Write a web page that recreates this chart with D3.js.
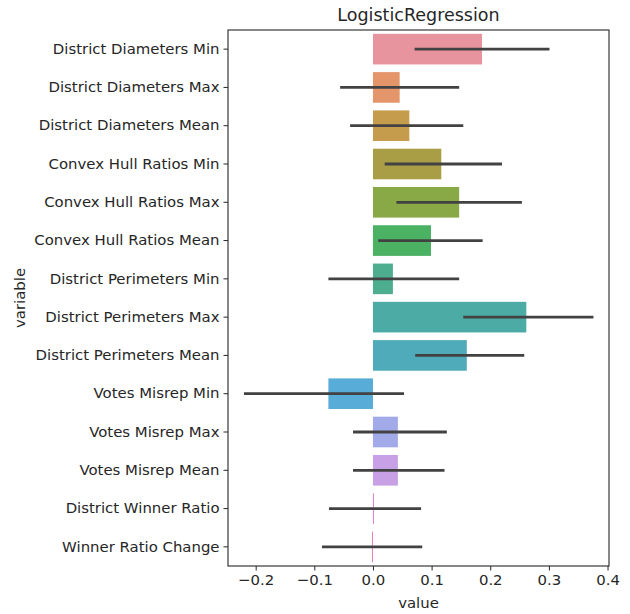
<!DOCTYPE html>
<html>
<head>
<meta charset="utf-8">
<script src="https://cdn.jsdelivr.net/npm/d3@7"></script>
<style>
  html, body { margin: 0; padding: 0; background: #fff; }
  svg { display: block; font-family: "DejaVu Sans", sans-serif; }
</style>
</head>
<body>
<svg id="chart" width="630" height="614"></svg>
<script>
// Feature coefficients with confidence intervals
const categories = [
  "District Diameters Min", "District Diameters Max", "District Diameters Mean",
  "Convex Hull Ratios Min", "Convex Hull Ratios Max", "Convex Hull Ratios Mean",
  "District Perimeters Min", "District Perimeters Max", "District Perimeters Mean",
  "Votes Misrep Min", "Votes Misrep Max", "Votes Misrep Mean",
  "District Winner Ratio", "Winner Ratio Change"
];
const values = [0.186, 0.0455, 0.062, 0.1165, 0.147, 0.099, 0.034, 0.2615, 0.16, -0.076, 0.0425, 0.0425, 0.0017, -0.0017];
const ciLow  = [0.071, -0.056, -0.039, 0.020, 0.040, 0.009, -0.076, 0.154, 0.072, -0.220, -0.034, -0.034, -0.075, -0.087];
const ciHigh = [0.301, 0.147, 0.154, 0.220, 0.254, 0.187, 0.147, 0.376, 0.258, 0.053, 0.126, 0.122, 0.082, 0.084];
const barColors = [
  "#e8949f", "#e4956a", "#c59b4c", "#a99e46", "#89a846", "#4bb163", "#4cae8e",
  "#4caba5", "#4fabba", "#57acd8", "#a2aaea", "#c8a0e6", "#e07fd0", "#e47fbd"
];
const xTicks = [-0.2, -0.1, 0.0, 0.1, 0.2, 0.3, 0.4];
const title = "LogisticRegression";
const xLabel = "value";
const yLabel = "variable";

const svg = d3.select("#chart");
const m = { left: 228, right: 609, top: 30, bottom: 566 };
const tickFont = 14.9;

const x = d3.scaleLinear().domain([-0.2472, 0.4025]).range([m.left, m.right]);
const y = d3.scaleBand().domain(categories).range([m.top, m.bottom]).paddingInner(0.2).paddingOuter(0.1);

// Bars
svg.append("g").selectAll("rect")
  .data(categories)
  .join("rect")
  .attr("x", (d, i) => Math.min(x(0), x(values[i])))
  .attr("width", (d, i) => Math.abs(x(values[i]) - x(0)))
  .attr("y", d => y(d))
  .attr("height", y.bandwidth())
  .attr("fill", (d, i) => barColors[i]);

// Error bars
svg.append("g").selectAll("line")
  .data(categories)
  .join("line")
  .attr("x1", (d, i) => x(ciLow[i]))
  .attr("x2", (d, i) => x(ciHigh[i]))
  .attr("y1", d => y(d) + y.bandwidth() / 2)
  .attr("y2", d => y(d) + y.bandwidth() / 2)
  .attr("stroke", "#424242")
  .attr("stroke-width", 2.8);

// Axes
const xAxis = d3.axisBottom(x).tickValues(xTicks).tickSizeOuter(0).tickSize(4.5).tickPadding(4)
  .tickFormat(d => d3.format(".1f")(d).replace("-", "\u2212"));
const gx = svg.append("g").attr("transform", `translate(0,${m.bottom})`).call(xAxis);
gx.select(".domain").remove();
gx.selectAll("text").attr("font-size", tickFont).attr("fill", "#262626").attr("font-family", "DejaVu Sans");
gx.selectAll("line").attr("stroke", "#262626").attr("stroke-width", 1);

const yAxis = d3.axisLeft(y).tickSizeOuter(0).tickSize(4.5).tickPadding(4);
const gy = svg.append("g").attr("transform", `translate(${m.left},0)`).call(yAxis);
gy.select(".domain").remove();
gy.selectAll("text").attr("font-size", tickFont).attr("fill", "#262626").attr("font-family", "DejaVu Sans");
gy.selectAll("line").attr("stroke", "#262626").attr("stroke-width", 1);

// Frame
svg.append("rect")
  .attr("x", m.left).attr("y", m.top)
  .attr("width", m.right - m.left).attr("height", m.bottom - m.top)
  .attr("fill", "none").attr("stroke", "#262626").attr("stroke-width", 1.1);

// Titles
svg.append("text").attr("x", (m.left + m.right) / 2).attr("y", 21)
  .attr("text-anchor", "middle").attr("font-size", 17.5).attr("fill", "#262626").text(title);
svg.append("text").attr("x", (m.left + m.right) / 2).attr("y", 608)
  .attr("text-anchor", "middle").attr("font-size", tickFont).attr("fill", "#262626").text(xLabel);
svg.append("text").attr("transform", `translate(25,${(m.top + m.bottom) / 2}) rotate(-90)`)
  .attr("text-anchor", "middle").attr("font-size", tickFont).attr("fill", "#262626").text(yLabel);
</script>
</body>
</html>
